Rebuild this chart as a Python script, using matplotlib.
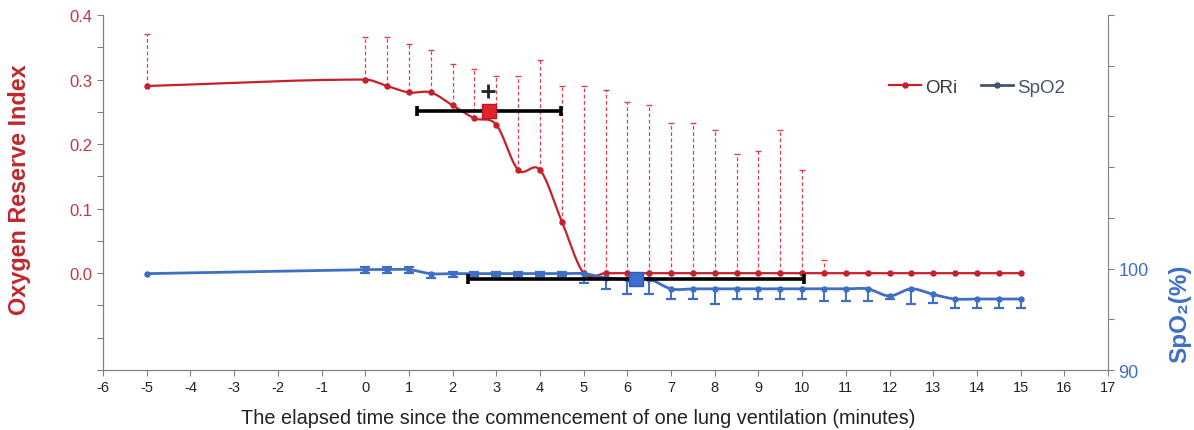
import numpy as np
import matplotlib
matplotlib.use("Agg")
import matplotlib.pyplot as plt
from matplotlib.lines import Line2D

plt.rcParams["font.family"] = ["Liberation Sans", "DejaVu Sans"]
plt.rcParams["axes.unicode_minus"] = False

# elapsed time (min) since start of one lung ventilation
time = [-5, 0, 0.5, 1, 1.5, 2, 2.5, 3, 3.5, 4, 4.5, 5,
        5.5, 6, 6.5, 7, 7.5, 8, 8.5, 9, 9.5, 10,
        10.5, 11, 11.5, 12, 12.5, 13, 13.5, 14, 14.5, 15]

# ORi mean and upper SD
ori = [0.29, 0.30, 0.29, 0.28, 0.28, 0.26, 0.24, 0.23, 0.16, 0.16, 0.08, 0.0,
       0.0, 0.0, 0.0, 0.0, 0.0, 0.0, 0.0, 0.0, 0.0, 0.0,
       0.0, 0.0, 0.0, 0.0, 0.0, 0.0, 0.0, 0.0, 0.0, 0.0]
ori_sd = [0.08, 0.066, 0.076, 0.075, 0.065, 0.064, 0.076, 0.075, 0.145, 0.17, 0.21, 0.29,
          0.284, 0.265, 0.26, 0.233, 0.233, 0.222, 0.185, 0.19, 0.222, 0.16,
          0.02, 0, 0, 0, 0, 0, 0, 0, 0, 0]

# SpO2 mean and SD (lower / upper)
spo2 = [99.5, 99.9, 99.9, 99.9, 99.5, 99.5, 99.5, 99.5, 99.5, 99.5, 99.5, 99.5,
        99.1, 98.95, 98.95, 98.0, 98.0, 98.0, 98.0, 98.0, 98.0, 98.0,
        98.0, 98.0, 98.0, 97.3, 98.0, 97.45, 97.0, 97.0, 97.0, 97.0]
spo2_sd_lo = [0, 0.3, 0.3, 0.3, 0.4, 0.3, 0.2, 0.2, 0.2, 0.2, 0.2, 0.9,
              1.1, 1.45, 1.45, 1.0, 1.0, 1.5, 1.0, 1.0, 1.0, 1.0,
              1.2, 1.2, 1.2, 0.3, 1.5, 0.85, 0.9, 0.9, 0.9, 0.9]
spo2_sd_hi = [0, 0.3, 0.3, 0.3, 0, 0.2, 0.2, 0.2, 0.2, 0.2, 0.2, 0,
              0, 0, 0, 0, 0, 0, 0, 0, 0, 0,
              0, 0, 0, 0, 0, 0, 0, 0, 0, 0]

# time of ORi drop / SpO2 drop (mean +- SD) and their levels
ori_event = (2.83, 1.65, 0.252)
ori_plus = (2.8, 0.282)
spo2_event = (6.2, 3.85, 98.95)

RED = "#C8202A"
RED_ERR = "#D8424A"
BLUE = "#3F6FC4"
SLATE = "#44546A"
GREY = "#808080"


def smooth(x, y, n=24):
    # cubic Hermite with finite-difference tangents (Excel-like smoothed line)
    x = np.asarray(x, float)
    y = np.asarray(y, float)
    m = np.zeros_like(y)
    m[1:-1] = (y[2:] - y[:-2]) / (x[2:] - x[:-2])
    m[0] = (y[1] - y[0]) / (x[1] - x[0])
    m[-1] = (y[-1] - y[-2]) / (x[-1] - x[-2])
    xs, ys = [], []
    for i in range(len(x) - 1):
        h = x[i + 1] - x[i]
        t = np.linspace(0, 1, n, endpoint=False)
        h00 = 2 * t**3 - 3 * t**2 + 1
        h10 = t**3 - 2 * t**2 + t
        h01 = -2 * t**3 + 3 * t**2
        h11 = t**3 - t**2
        xs.append(x[i] + t * h)
        ys.append(h00 * y[i] + h10 * h * m[i] + h01 * y[i + 1] + h11 * h * m[i + 1])
    xs.append([x[-1]])
    ys.append([y[-1]])
    return np.concatenate(xs), np.concatenate(ys)


def bars(ax, x, y, lo, hi, color, ls, lw, cap, capw):
    x = np.asarray(x, float)
    y = np.asarray(y, float)
    lo = np.asarray(lo, float)
    hi = np.asarray(hi, float)
    for sel, ends in ((hi > 0, y + hi), (lo > 0, y - lo)):
        ax.vlines(x[sel], y[sel], ends[sel], colors=color, linestyles=ls,
                  linewidth=lw, zorder=2)
        ax.plot(x[sel], ends[sel], ls="none", marker="_", color=color,
                markersize=cap, markeredgewidth=capw, zorder=2)


fig = plt.figure(figsize=(11.94, 4.31), dpi=100)
ax = fig.add_axes([0.0863, 0.1392, 0.8417, 0.8237])
ax2 = ax.twinx()

# ORi
bars(ax, time, ori, [0] * len(time), ori_sd, RED_ERR, (0, (3, 2)), 0.9, 5, 1.0)
sx, sy = smooth(time, ori)
ax.plot(sx, sy, color=RED, lw=1.6, zorder=3)
ax.plot(time, ori, ls="none", marker="o", ms=3.6, color=RED, zorder=4)
ax.errorbar(ori_event[0], ori_event[2], xerr=ori_event[1], fmt="none",
            ecolor="black", elinewidth=2.6, capsize=3.5, capthick=2.6, zorder=5)
ax.plot(ori_event[0], ori_event[2], marker="s", ms=10.5, color="#E3232B",
        mec="#B81A22", mew=1, zorder=6)
ax.plot(*ori_plus, marker="+", ms=10, mew=2, color="#222222", zorder=6)

# SpO2
bars(ax2, time, spo2, spo2_sd_lo, spo2_sd_hi, BLUE, "solid", 1.4, 7, 1.6)
bx, by = smooth(time, spo2)
ax2.plot(bx, by, color=BLUE, lw=2.0, zorder=3)
ax2.plot(time, spo2, ls="none", marker="o", ms=3.6, color=BLUE, zorder=4)
ax2.errorbar(spo2_event[0], spo2_event[2], xerr=spo2_event[1], fmt="none",
             ecolor="black", elinewidth=2.6, capsize=3.5, capthick=2.6, zorder=5)
ax2.plot(spo2_event[0], spo2_event[2], marker="s", ms=10, color="#3C6FD2",
         mec="#2E5BB5", mew=1, zorder=6)

# axes
ax.set_xlim(-6, 17)
ax.set_xticks(range(-6, 18))
ax.set_ylim(-0.15, 0.4)
yt = np.round(np.arange(-0.15, 0.4001, 0.05), 2)
ax.set_yticks(yt)
ax.set_yticklabels([f"{v:.1f}" if v >= 0 and abs(v * 10 - round(v * 10)) < 1e-6 else ""
                    for v in yt])
ax2.set_ylim(90, 125)
ax2.set_yticks(range(90, 126, 5))
ax2.set_yticklabels(["90", "", "100", "", "", "", "", ""])

for a in (ax, ax2):
    for s in a.spines.values():
        s.set_color(GREY)
    a.spines["top"].set_visible(False)
ax.spines["right"].set_visible(False)

ax.tick_params(axis="x", direction="out", length=4, color=GREY,
               labelsize=10.5, labelcolor="#222222")
ax.tick_params(axis="y", direction="out", length=4, color=GREY,
               labelsize=12, labelcolor="#C0393F")
ax2.tick_params(axis="y", direction="out", length=4, color=GREY,
                labelsize=13, labelcolor=BLUE)

ax.set_xlabel("The elapsed time since the commencement of one lung ventilation (minutes)",
              fontsize=14.3, color="#222222")
ax.xaxis.set_label_coords(0.4726, -0.107)
ax.set_ylabel("Oxygen Reserve Index", fontsize=16.8, fontweight="bold", color="#C0282D")
ax.yaxis.set_label_coords(-0.0716, 0.51)
ax2.set_ylabel("SpO₂(%)", fontsize=17.5, fontweight="bold", color=BLUE)
ax2.yaxis.set_label_coords(1.0597, 0.162)

handles = [
    Line2D([], [], color=RED, lw=1.6, marker="o", ms=3.6),
    Line2D([], [], color=SLATE, lw=2.0, marker="o", ms=3.6),
]
leg = ax2.legend(handles, ["ORi", "SpO2"], ncol=2, frameon=False, fontsize=13.5,
                 loc="center right", bbox_to_anchor=(0.974, 0.797),
                 handlelength=1.7, handletextpad=0.2, columnspacing=1.3)
leg.get_texts()[0].set_color("#3A3A3A")
leg.get_texts()[1].set_color(SLATE)

fig.savefig("out.png", dpi=100)
